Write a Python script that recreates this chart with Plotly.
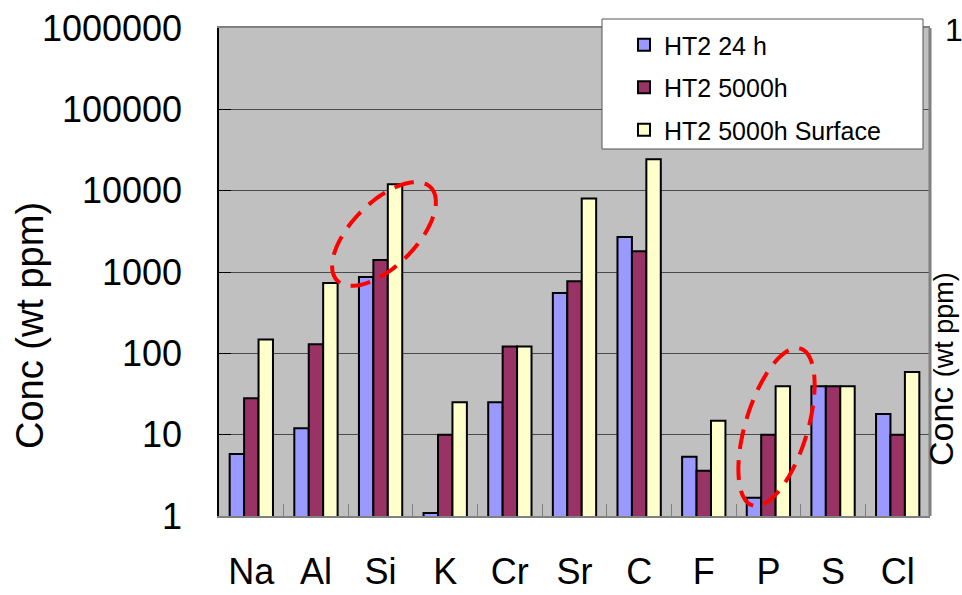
import numpy as np
import plotly.graph_objects as go

categories = ["Na", "Al", "Si", "K", "Cr", "Sr", "C", "F", "P", "S", "Cl"]
ht2_24h = [5.8, 12, 870, 1.09, 25, 550, 2700, 5.35, 1.68, 39.5, 18]
ht2_5000h = [28, 129, 1400, 10, 121, 770, 1800, 3.6, 10, 39.5, 10]
ht2_5000h_surface = [148, 735, 12000, 25, 121, 8000, 24300, 14.8, 39.5, 39.5, 59]
series_names = ["HT2 24 h", "HT2 5000h", "HT2 5000h Surface"]
series_colors = ["#9999FF", "#993366", "#FFFFCC"]
y_tickvals = [1, 10, 100, 1000, 10000, 100000, 1000000]
y_ticktext = ["1", "10", "100", "1000", "10000", "100000", "1000000"]

W, H = 962, 595
L, R, T, B = 219, 930, 28, 516  # plot area in pixels


def px_to_paper(px, py):
    return (np.asarray(px) - L) / (R - L), (B - np.asarray(py)) / (B - T)


def ellipse_path(cx, cy, a, b, ux, uy, n=120):
    t = np.linspace(0, 2 * np.pi, n)
    vx, vy = -uy, ux
    xs = cx + a * np.cos(t) * ux + b * np.sin(t) * vx
    ys = cy + a * np.cos(t) * uy + b * np.sin(t) * vy
    xp, yp = px_to_paper(xs, ys)
    pts = [f"{x:.5f},{y:.5f}" for x, y in zip(xp, yp)]
    return "M" + " L".join(pts) + " Z"


fig = go.Figure()
for i, (name, vals, col) in enumerate(zip(series_names,
                                          [ht2_24h, ht2_5000h, ht2_5000h_surface],
                                          series_colors)):
    fig.add_trace(go.Bar(
        x=categories, y=vals, name=name, legendgroup=f"g{i}",
        marker=dict(color=col, line=dict(color="black", width=2)),
    ))

font_family = "Liberation Sans, Arial, sans-serif"

shapes = []
# legend box
lx0, ly0 = px_to_paper(602, 149)
lx1, ly1 = px_to_paper(923, 19)
shapes.append(dict(type="rect", xref="paper", yref="paper", x0=lx0, y0=ly0, x1=lx1, y1=ly1,
                   fillcolor="white", line=dict(color="#555555", width=1), layer="above"))
# right border of plot area
shapes.append(dict(type="line", xref="paper", yref="paper", x0=1, x1=1, y0=0, y1=1,
                   line=dict(color="#808080", width=3)))
# red dashed ellipses
s = np.sin(np.deg2rad(45)); c = np.cos(np.deg2rad(45))
shapes.append(dict(type="path", xref="paper", yref="paper",
                   path=ellipse_path(384, 234, 66, 32, c, -s),
                   line=dict(color="#FF0000", width=4, dash="20px,11px"), layer="above"))
s2 = np.sin(np.deg2rad(17)); c2 = np.cos(np.deg2rad(17))
shapes.append(dict(type="path", xref="paper", yref="paper",
                   path=ellipse_path(776.5, 427, 82, 31, s2, -c2),
                   line=dict(color="#FF0000", width=4, dash="20px,11px"), layer="above"))

annotations = []
ax, ay = px_to_paper(30, 326)
annotations.append(dict(text="Conc (wt ppm)", xref="paper", yref="paper", x=ax, y=ay,
                        textangle=-90, showarrow=False, xanchor="center", yanchor="middle",
                        font=dict(size=38, color="black", family=font_family)))
rx, ry = px_to_paper(941, 369)
annotations.append(dict(text="Conc <span style='font-size:27px'>(wt ppm)</span>",
                        xref="paper", yref="paper", x=rx, y=ry,
                        textangle=-90, showarrow=False, xanchor="center", yanchor="middle",
                        font=dict(size=34, color="black", family=font_family)))
ox, oy = px_to_paper(943, 30)
annotations.append(dict(text="1", xref="paper", yref="paper", x=ox, y=oy,
                        showarrow=False, xanchor="left", yanchor="middle",
                        font=dict(size=32, color="black", family=font_family)))

fig.update_layout(
    width=W, height=H,
    margin=dict(l=L, r=W - R, t=T, b=H - B, pad=0, autoexpand=False),
    paper_bgcolor="white", plot_bgcolor="#C0C0C0",
    barmode="group", bargap=0.33, bargroupgap=0,
    font=dict(family=font_family, color="black"),
    showlegend=True,
    legend=dict(x=(624 - L) / (R - L), y=1.0 + 6 / (B - T), xanchor="left", yanchor="top",
                bgcolor="rgba(0,0,0,0)", borderwidth=0, tracegroupgap=7,
                font=dict(size=25, color="black", family=font_family)),
    shapes=shapes, annotations=annotations,
)
fig.update_xaxes(
    type="category", showgrid=False, showline=True, linecolor="#808080", linewidth=2,
    mirror=True, ticks="inside", tickson="boundaries", ticklen=12, tickcolor="#808080",
    tickfont=dict(size=36, color="black"), ticklabelstandoff=23, automargin=False,
)
fig.update_yaxes(
    type="log", range=[0, 6], tickvals=y_tickvals, ticktext=y_ticktext,
    showgrid=True, gridcolor="#4a4a4a", gridwidth=1,
    showline=True, linecolor="black", linewidth=1.5, ticks="inside", ticklen=12,
    tickcolor="black", tickfont=dict(size=36, color="black"), ticklabelstandoff=28,
    zeroline=False, automargin=False,
)

fig.write_html("out.html")
